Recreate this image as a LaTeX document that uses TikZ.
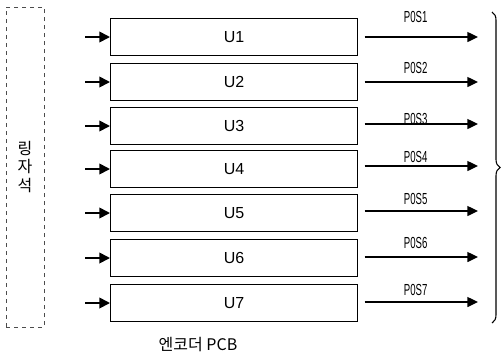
\documentclass[tikz,border=0pt]{standalone}
\usepackage{fontspec}
\setmainfont{Liberation Sans}
\newfontfamily\krfont{Noto Sans CJK KR}
\newfontfamily\narrowfont{Liberation Sans}[FakeStretch=0.6]
\usetikzlibrary{arrows.meta, positioning, decorations.pathreplacing}

\begin{document}
\begin{tikzpicture}[
    x=0.75pt, y=-0.75pt,
    % Encoder chip boxes
    chip/.style={
        draw,
        line width=1pt,
        minimum width=185pt,
        minimum height=28pt,
        inner sep=0pt,
        font=\large
    },
    % Magnet strip on the left
    magnet_box/.style={
        draw=black!70,
        dashed,
        line width=0.6pt,
        minimum width=28.5pt,
        minimum height=240pt,
        align=center,
        font=\krfont\large
    },
    in_arrow/.style={-{Triangle[length=8pt,width=8pt]}, line width=1.3pt},
    out_arrow/.style={-{Triangle[length=8pt,width=7.5pt]}, line width=1pt},
    pos_label/.style={font=\narrowfont\large, inner sep=0pt}
]
    \useasboundingbox (0,0) rectangle (502,362);

    % ==========================================
    % 1. MAGNET STRIP
    % ==========================================
    \node[magnet_box] (magnet) at (25,167) {링\\자\\석};

    % ==========================================
    % 2. ENCODER CHIPS U1..U7
    % ==========================================
    \node[chip] (u1) at (234,37) {U1};
    \node[chip] (u2) at (234,82) {U2};
    \node[chip] (u3) at (234,126) {U3};
    \node[chip] (u4) at (234,169) {U4};
    \node[chip] (u5) at (234,213) {U5};
    \node[chip] (u6) at (234,258) {U6};
    \node[chip] (u7) at (234,303) {U7};

    % Input arrow start points
    \coordinate (in1) at (85,37);
    \coordinate (in2) at (85,82);
    \coordinate (in3) at (85,126);
    \coordinate (in4) at (85,169);
    \coordinate (in5) at (85,213);
    \coordinate (in6) at (85,258);
    \coordinate (in7) at (85,303);

    % Output arrow end points
    \coordinate (out1) at (478,37);
    \coordinate (out2) at (478,82);
    \coordinate (out3) at (478,124);
    \coordinate (out4) at (478,166);
    \coordinate (out5) at (478,211);
    \coordinate (out6) at (478,257);
    \coordinate (out7) at (478,302);

    % Input arrows
    \draw[in_arrow] (in1) -- (u1);
    \draw[in_arrow] (in2) -- (u2);
    \draw[in_arrow] (in3) -- (u3);
    \draw[in_arrow] (in4) -- (u4);
    \draw[in_arrow] (in5) -- (u5);
    \draw[in_arrow] (in6) -- (u6);
    \draw[in_arrow] (in7) -- (u7);

    % Output arrows with position labels
    \draw[out_arrow] ([xshift=5pt]u1.east |- out1) -- node[pos_label, pos=0.45, above=10pt] (pos1) {P0S1} (out1);
    \draw[out_arrow] ([xshift=5pt]u2.east |- out2) -- node[pos_label, pos=0.45, above=6pt] (pos2) {P0S2} (out2);
    \draw[out_arrow] ([xshift=5pt]u3.east |- out3) -- node[pos_label, pos=0.45, above=-1pt] (pos3) {P0S3} (out3);
    \draw[out_arrow] ([xshift=5pt]u4.east |- out4) -- node[pos_label, pos=0.45, above=2pt] (pos4) {P0S4} (out4);
    \draw[out_arrow] ([xshift=5pt]u5.east |- out5) -- node[pos_label, pos=0.45, above=4pt] (pos5) {P0S5} (out5);
    \draw[out_arrow] ([xshift=5pt]u6.east |- out6) -- node[pos_label, pos=0.45, above=6pt] (pos6) {P0S6} (out6);
    \draw[out_arrow] ([xshift=5pt]u7.east |- out7) -- node[pos_label, pos=0.45, above=4.5pt] (pos7) {P0S7} (out7);

    % ==========================================
    % 3. RIGHT BRACE AND CAPTION
    % ==========================================
    \coordinate (brace_top) at (492,12);
    \coordinate (brace_bot) at (492,323);
    \draw[line width=0.8pt, decorate, decoration={brace, amplitude=6pt}] (brace_top) -- (brace_bot);

    \node[font=\krfont\large] (caption) at (198,345) {엔코더 PCB};

\end{tikzpicture}
\end{document}
